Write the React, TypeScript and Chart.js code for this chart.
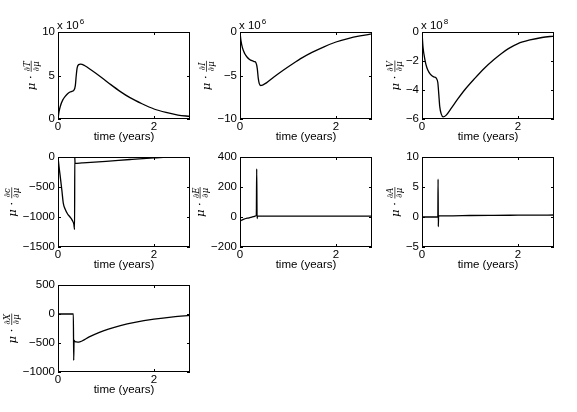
import React, { useEffect, useRef } from 'react';
import { Chart, registerables } from 'chart.js';
Chart.register(...registerables);

const xTicks = [0, 2];
const xMax = 2.75;

// Panel 1: mu * dT/dmu (x 10^6)
const t1 = [0, 0.02, 0.05, 0.1, 0.15, 0.2, 0.25, 0.3, 0.33, 0.36, 0.38, 0.4, 0.43, 0.47, 0.55, 0.7, 0.9, 1.1, 1.3, 1.5, 1.75, 2.0, 2.25, 2.5, 2.75];
const dT = [0, 0.8, 1.5, 2.2, 2.6, 2.9, 3.1, 3.2, 3.3, 3.8, 5.0, 5.9, 6.25, 6.3, 6.15, 5.6, 4.8, 3.95, 3.15, 2.45, 1.75, 1.15, 0.75, 0.45, 0.3];
const yTicks1 = [0, 5, 10];

// Panel 2: mu * dI/dmu (x 10^6)
const t2 = [0, 0.02, 0.05, 0.1, 0.15, 0.2, 0.25, 0.3, 0.33, 0.36, 0.38, 0.4, 0.43, 0.47, 0.55, 0.7, 0.9, 1.1, 1.3, 1.5, 1.75, 2.0, 2.25, 2.5, 2.75];
const dI = [0, -1.0, -1.8, -2.5, -2.9, -3.15, -3.3, -3.4, -3.5, -4.2, -5.3, -5.9, -6.15, -6.1, -5.85, -5.2, -4.4, -3.65, -2.95, -2.35, -1.7, -1.15, -0.75, -0.45, -0.22];
const yTicks2 = [-10, -5, 0];

// Panel 3: mu * dV/dmu (x 10^8)
const t3 = [0, 0.02, 0.06, 0.1, 0.15, 0.2, 0.25, 0.3, 0.33, 0.35, 0.37, 0.4, 0.44, 0.5, 0.6, 0.75, 0.9, 1.1, 1.3, 1.5, 1.65, 1.8, 2.0, 2.25, 2.5, 2.75];
const dV = [0, -1.0, -1.9, -2.45, -2.8, -3.0, -3.1, -3.2, -3.5, -4.3, -5.15, -5.65, -5.85, -5.75, -5.3, -4.6, -3.95, -3.2, -2.5, -1.9, -1.5, -1.15, -0.8, -0.55, -0.38, -0.28];
const yTicks3 = [-6, -4, -2, 0];

// Panel 4: mu * dc/dmu
const t4 = [0, 0.02, 0.04, 0.08, 0.11, 0.15, 0.2, 0.25, 0.3, 0.33, 0.345, 0.35, 0.355, 0.5, 1.0, 1.5, 2.0, 2.3, 2.75];
const dC = [0, -150, -280, -550, -770, -870, -950, -1000, -1060, -1120, -1210, 0, -105, -98, -72, -42, -15, -3, 0];
const yTicks4 = [-1500, -1000, -500, 0];

// Panel 5: mu * dE/dmu
const t5 = [0, 0.03, 0.07, 0.15, 0.22, 0.28, 0.33, 0.34, 0.348, 0.356, 0.365, 0.6, 1.0, 1.5, 2.0, 2.5, 2.75];
const dE = [-28, -22, -16, -8, -3, 2, 8, 10, 320, -10, 6, 6, 6, 6, 6, 6, 6];
const yTicks5 = [-200, 0, 200, 400];

// Panel 6: mu * dA/dmu
const t6 = [0, 0.1, 0.2, 0.3, 0.33, 0.335, 0.34, 0.345, 0.36, 0.6, 1.0, 1.5, 2.0, 2.5, 2.75];
const dA = [0, 0, 0, 0, 0, 6.3, -1.6, 0.2, 0.2, 0.2, 0.25, 0.28, 0.3, 0.32, 0.33];
const yTicks6 = [-5, 0, 5, 10];

// Panel 7: mu * dX/dmu
const t7 = [0, 0.1, 0.2, 0.3, 0.32, 0.327, 0.335, 0.345, 0.38, 0.43, 0.5, 0.65, 0.85, 1.05, 1.3, 1.6, 2.0, 2.4, 2.75];
const dX = [0, 0, 0, 0, 0, -800, -450, -470, -480, -485, -465, -395, -320, -260, -200, -145, -90, -50, -25];
const yTicks7 = [-1000, -500, 0, 500];

const FONT = "'Liberation Sans', Arial, Helvetica, sans-serif";
const SERIF = "'DejaVu Serif', 'Liberation Serif', serif";
const TICK_SIZE = 11.5;

const fmt = (v: number) => String(v).replace('-', '\u2212');

type PanelProps = {
  left: number; top: number; width: number; height: number;
  t: number[]; y: number[]; yTicks: number[]; sym: string; exp?: string;
};

const PAD_L = 60, PAD_T = 20, PAD_R = 8, PAD_B = 30;

function Panel(p: PanelProps) {
  const ref = useRef<HTMLCanvasElement>(null);
  const W = p.width + PAD_L + PAD_R;
  const H = p.height + PAD_T + PAD_B;
  useEffect(() => {
    const frame = {
      id: 'frame',
      afterDraw(chart: any) {
        const ctx = chart.ctx as CanvasRenderingContext2D;
        const a = chart.chartArea;
        const xs = chart.scales.x, ys = chart.scales.y;
        ctx.save();
        ctx.strokeStyle = '#000';
        ctx.lineWidth = 1;
        ctx.strokeRect(a.left + 0.5, a.top + 0.5, a.right - a.left - 1, a.bottom - a.top - 1);
        ctx.beginPath();
        for (const v of xTicks) {
          const px = Math.round(xs.getPixelForValue(v)) + 0.5;
          ctx.moveTo(px, a.bottom); ctx.lineTo(px, a.bottom - 3);
          ctx.moveTo(px, a.top); ctx.lineTo(px, a.top + 3);
        }
        for (const v of p.yTicks) {
          const py = Math.round(ys.getPixelForValue(v)) + 0.5;
          ctx.moveTo(a.left, py); ctx.lineTo(a.left + 3, py);
          ctx.moveTo(a.right, py); ctx.lineTo(a.right - 3, py);
        }
        ctx.stroke();
        ctx.fillStyle = '#000';
        // x title
        ctx.font = `${TICK_SIZE}px ${FONT}`;
        ctx.textAlign = 'center';
        ctx.textBaseline = 'alphabetic';
        ctx.fillText('time (years)', (a.left + a.right) / 2, a.bottom + 21);
        // exponent
        if (p.exp) {
          ctx.textAlign = 'left';
          ctx.fillText('x 10', a.left - 1, a.top - 3);
          const w = ctx.measureText('x 10').width;
          ctx.font = `8px ${FONT}`;
          ctx.fillText(p.exp, a.left + w, a.top - 8);
        }
        // y label
        ctx.font = `${TICK_SIZE}px ${FONT}`;
        let maxW = 0;
        for (const v of p.yTicks) maxW = Math.max(maxW, ctx.measureText(fmt(v)).width);
        const cx = a.left - 3 - maxW - 11;
        const cy = (a.top + a.bottom) / 2;
        ctx.translate(cx, cy);
        ctx.rotate(-Math.PI / 2);
        ctx.font = `italic 11.5px ${SERIF}`;
        const main = '\u03BC \u00B7 ';
        const w1 = ctx.measureText(main).width;
        ctx.font = `italic 8.5px ${SERIF}`;
        const num = '\u2202' + p.sym, den = '\u2202\u03BC';
        const fw = Math.max(ctx.measureText(num).width, ctx.measureText(den).width) + 1;
        const x0 = -(w1 + fw) / 2;
        ctx.font = `italic 11.5px ${SERIF}`;
        ctx.textAlign = 'left';
        ctx.fillText(main, x0, 4);
        ctx.font = `italic 8.5px ${SERIF}`;
        ctx.textAlign = 'center';
        const fx = x0 + w1 + fw / 2;
        ctx.fillText(num, fx, -1.5);
        ctx.textBaseline = 'top';
        ctx.fillText(den, fx, 1);
        ctx.beginPath();
        ctx.lineWidth = 0.7;
        ctx.moveTo(x0 + w1, 0); ctx.lineTo(x0 + w1 + fw, 0);
        ctx.stroke();
        ctx.restore();
      },
    };
    const font = { family: FONT, size: TICK_SIZE };
    const chart = new Chart(ref.current!, {
      type: 'line',
      data: {
        datasets: [{
          data: p.t.map((x, i) => ({ x, y: p.y[i] })),
          borderColor: '#000',
          borderWidth: 1.3,
          pointRadius: 0,
          fill: false,
          cubicInterpolationMode: 'monotone',
        }],
      },
      options: {
        animation: false,
        responsive: false,
        maintainAspectRatio: false,
        layout: { padding: { left: 0, top: PAD_T, right: PAD_R, bottom: 0 } },
        plugins: { legend: { display: false }, tooltip: { enabled: false } },
        scales: {
          x: {
            type: 'linear', min: 0, max: xMax,
            grid: { display: false, drawTicks: false },
            border: { display: false },
            ticks: { padding: 1, color: '#000', font, maxRotation: 0, autoSkip: false, callback: (v: any) => fmt(v) },
            afterBuildTicks: (s: any) => { s.ticks = xTicks.map((v) => ({ value: v })); },
            afterFit: (s: any) => { s.height = PAD_B; },
          },
          y: {
            type: 'linear', min: p.yTicks[0], max: p.yTicks[p.yTicks.length - 1],
            grid: { display: false, drawTicks: false },
            border: { display: false },
            ticks: { padding: 3, color: '#000', font, autoSkip: false, callback: (v: any) => fmt(v) },
            afterBuildTicks: (s: any) => { s.ticks = p.yTicks.map((v) => ({ value: v })); },
            afterFit: (s: any) => { s.width = PAD_L; },
          },
        },
      } as any,
      plugins: [frame],
    });
    return () => chart.destroy();
  }, []);
  return (
    <canvas
      ref={ref}
      width={W}
      height={H}
      style={{ position: 'absolute', left: p.left - PAD_L, top: p.top - PAD_T, width: W, height: H }}
    />
  );
}

export default function App() {
  const cols = [58, 240, 422];
  const w = 132;
  return (
    <div style={{ position: 'absolute', left: 0, top: 0, width: 577, height: 412, background: '#fff', overflow: 'hidden' }}>
      <Panel left={cols[0]} top={32} width={w} height={87} t={t1} y={dT} yTicks={yTicks1} sym="T" exp="6" />
      <Panel left={cols[1]} top={32} width={w} height={87} t={t2} y={dI} yTicks={yTicks2} sym="I" exp="6" />
      <Panel left={cols[2]} top={32} width={w} height={87} t={t3} y={dV} yTicks={yTicks3} sym="V" exp="8" />
      <Panel left={cols[0]} top={157} width={w} height={90} t={t4} y={dC} yTicks={yTicks4} sym="c" />
      <Panel left={cols[1]} top={157} width={w} height={90} t={t5} y={dE} yTicks={yTicks5} sym="E" />
      <Panel left={cols[2]} top={157} width={w} height={90} t={t6} y={dA} yTicks={yTicks6} sym="A" />
      <Panel left={cols[0]} top={285} width={w} height={87} t={t7} y={dX} yTicks={yTicks7} sym="X" />
    </div>
  );
}
